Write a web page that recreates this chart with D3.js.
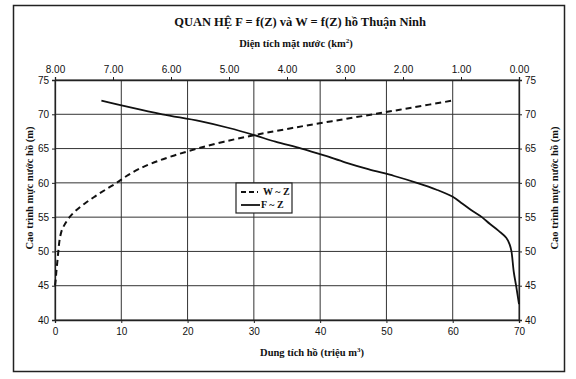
<!DOCTYPE html>
<html lang="vi">
<head>
<meta charset="utf-8">
<title>Quan hệ F=f(Z) và W=f(Z)</title>
<script src="https://d3js.org/d3.v7.min.js"></script>
<style>
	body{ margin:0; background:#fff; }
	svg text{ fill:#111; }
	.tick-label{ font-family:"Liberation Sans", Arial, sans-serif; font-size:10px; }
	.ttl{ font-family:"Liberation Serif", "Times New Roman", serif; font-weight:bold; }
</style>
</head>
<body>
<div id="chart"></div>
<script>
// cao trinh Z (m) for the storage curve W~Z
var zW = [45, 46, 47, 48, 49, 50, 51, 52, 53, 54, 55, 56, 57, 58, 59, 60, 61, 62, 63, 64, 65, 66, 67, 68, 69, 70, 71, 72];
// dung tich W (trieu m3)
var volW = [0, 0.12, 0.2, 0.3, 0.4, 0.5, 0.6, 0.75, 1.0, 1.5, 2.2, 3.2, 4.5, 6.0, 7.6, 9.3, 10.8, 12.6, 15.0, 18.0, 21.5, 25.5, 30.3, 35.8, 41.8, 48.0, 54.0, 60.0];

// cao trinh Z (m) for the area curve F~Z
var zF = [42.3, 45, 47, 50, 51, 52, 53, 54, 55, 56, 57, 58, 59, 60, 61, 62, 63, 64, 65, 66, 67, 68, 69, 70, 71, 72];
// dien tich mat nuoc F (km2)
var areaF = [0, 0.05, 0.09, 0.13, 0.16, 0.22, 0.35, 0.5, 0.64, 0.82, 0.98, 1.15, 1.42, 1.76, 2.15, 2.6, 3.0, 3.36, 3.75, 4.2, 4.58, 5.0, 5.5, 6.15, 6.7, 7.2];

var volTicks = [0, 10, 20, 30, 40, 50, 60, 70];
var areaTicks = [8, 7, 6, 5, 4, 3, 2, 1, 0];
var zTicks = [40, 45, 50, 55, 60, 65, 70, 75];

var width = 576, height = 379;
var pLeft = 55, pRight = 519, pTop = 80, pBottom = 320;

var svg = d3.select("#chart").append("svg")
	.attr("width", width)
	.attr("height", height);

// outer frame
svg.append("rect")
	.attr("x", 13.5).attr("y", 5.5)
	.attr("width", 551).attr("height", 366)
	.attr("fill", "none").attr("stroke", "#222").attr("stroke-width", 1.5);

var x = d3.scaleLinear().domain([0, 70]).range([pLeft, pRight]);
var xTop = d3.scaleLinear().domain([8, 0]).range([pLeft, pRight]);
var y = d3.scaleLinear().domain([40, 75]).range([pBottom, pTop]);

/** grid lines */
svg.append("g").selectAll("line")
	.data(zTicks)
	.enter().append("line")
	.attr("x1", pLeft).attr("x2", pRight)
	.attr("y1", function(d){ return y(d); })
	.attr("y2", function(d){ return y(d); })
	.attr("stroke", "#333").attr("stroke-width", 1);

svg.append("g").selectAll("line")
	.data(volTicks)
	.enter().append("line")
	.attr("x1", function(d){ return x(d); })
	.attr("x2", function(d){ return x(d); })
	.attr("y1", pTop).attr("y2", pBottom)
	.attr("stroke", "#333").attr("stroke-width", 1);

/** axes */
function styleAxis(g){
	g.selectAll("text").attr("class", "tick-label").attr("fill", "#111");
	g.selectAll("line").attr("stroke", "#222");
	g.select(".domain").attr("stroke", "#222").attr("stroke-width", 1.3);
}

svg.append("g").attr("transform", "translate(0," + pBottom + ")")
	.call(d3.axisBottom(x).tickValues(volTicks).tickSize(3).tickFormat(d3.format("d")))
	.call(styleAxis)
	.selectAll("text").attr("dy", "0.9em");

svg.append("g").attr("transform", "translate(0," + pTop + ")")
	.call(d3.axisTop(xTop).tickValues(areaTicks).tickSize(3).tickFormat(d3.format(".2f")))
	.call(styleAxis)
	.selectAll("text").attr("dy", "-0.15em");

svg.append("g").attr("transform", "translate(" + pLeft + ",0)")
	.call(d3.axisLeft(y).tickValues(zTicks).tickSize(3).tickFormat(d3.format("d")))
	.call(styleAxis);

svg.append("g").attr("transform", "translate(" + pRight + ",0)")
	.call(d3.axisRight(y).tickValues(zTicks).tickSize(3).tickFormat(d3.format("d")))
	.call(styleAxis);

/** curves */
var lineW = d3.line()
	.x(function(d, i){ return x(volW[i]); })
	.y(function(d){ return y(d); })
	.curve(d3.curveCatmullRom.alpha(0.5));

var lineF = d3.line()
	.x(function(d, i){ return xTop(areaF[i]); })
	.y(function(d){ return y(d); })
	.curve(d3.curveCatmullRom.alpha(0.5));

svg.append("path").datum(zW)
	.attr("d", lineW)
	.attr("fill", "none").attr("stroke", "#111")
	.attr("stroke-width", 2).attr("stroke-dasharray", "6,4");

svg.append("path").datum(zF)
	.attr("d", lineF)
	.attr("fill", "none").attr("stroke", "#111")
	.attr("stroke-width", 1.8);

/** legend */
var lg = svg.append("g").attr("transform", "translate(236,183)");
lg.append("rect").attr("width", 56).attr("height", 30)
	.attr("fill", "#fff").attr("stroke", "#222").attr("stroke-width", 1.2);
lg.append("line").attr("x1", 5).attr("x2", 22).attr("y1", 9).attr("y2", 9)
	.attr("stroke", "#111").attr("stroke-width", 2).attr("stroke-dasharray", "5,3");
lg.append("line").attr("x1", 5).attr("x2", 24).attr("y1", 22).attr("y2", 22)
	.attr("stroke", "#111").attr("stroke-width", 1.8);
lg.append("text").attr("class", "ttl").attr("x", 27).attr("y", 12).attr("font-size", 10).attr("font-weight", "normal").text("W ~ Z");
lg.append("text").attr("class", "ttl").attr("x", 25).attr("y", 25).attr("font-size", 10).attr("font-weight", "normal").text("F ~ Z");

/** titles */
svg.append("text").attr("class", "ttl")
	.attr("x", 300).attr("y", 26).attr("text-anchor", "middle").attr("font-size", 12.5)
	.text("QUAN HỆ F =  f(Z) và W =  f(Z) hồ Thuận Ninh");

var topTitle = svg.append("text").attr("class", "ttl")
	.attr("x", 296).attr("y", 47).attr("text-anchor", "middle").attr("font-size", 10.5);
topTitle.append("tspan").text("Diện tích mặt nước (km");
topTitle.append("tspan").attr("baseline-shift", "super").attr("font-size", 7).text("2");
topTitle.append("tspan").text(")");

var botTitle = svg.append("text").attr("class", "ttl")
	.attr("x", 312).attr("y", 356).attr("text-anchor", "middle").attr("font-size", 10.5);
botTitle.append("tspan").text("Dung tích hồ  (triệu m");
botTitle.append("tspan").attr("baseline-shift", "super").attr("font-size", 7).text("3");
botTitle.append("tspan").text(")");

svg.append("text").attr("class", "ttl")
	.attr("transform", "translate(33,188) rotate(-90)")
	.attr("text-anchor", "middle").attr("font-size", 10.5)
	.text("Cao trình mực nước hồ (m)");

svg.append("text").attr("class", "ttl")
	.attr("transform", "translate(558,188) rotate(-90)")
	.attr("text-anchor", "middle").attr("font-size", 10.5)
	.text("Cao trình mực nước hồ  (m)");
</script>
</body>
</html>
